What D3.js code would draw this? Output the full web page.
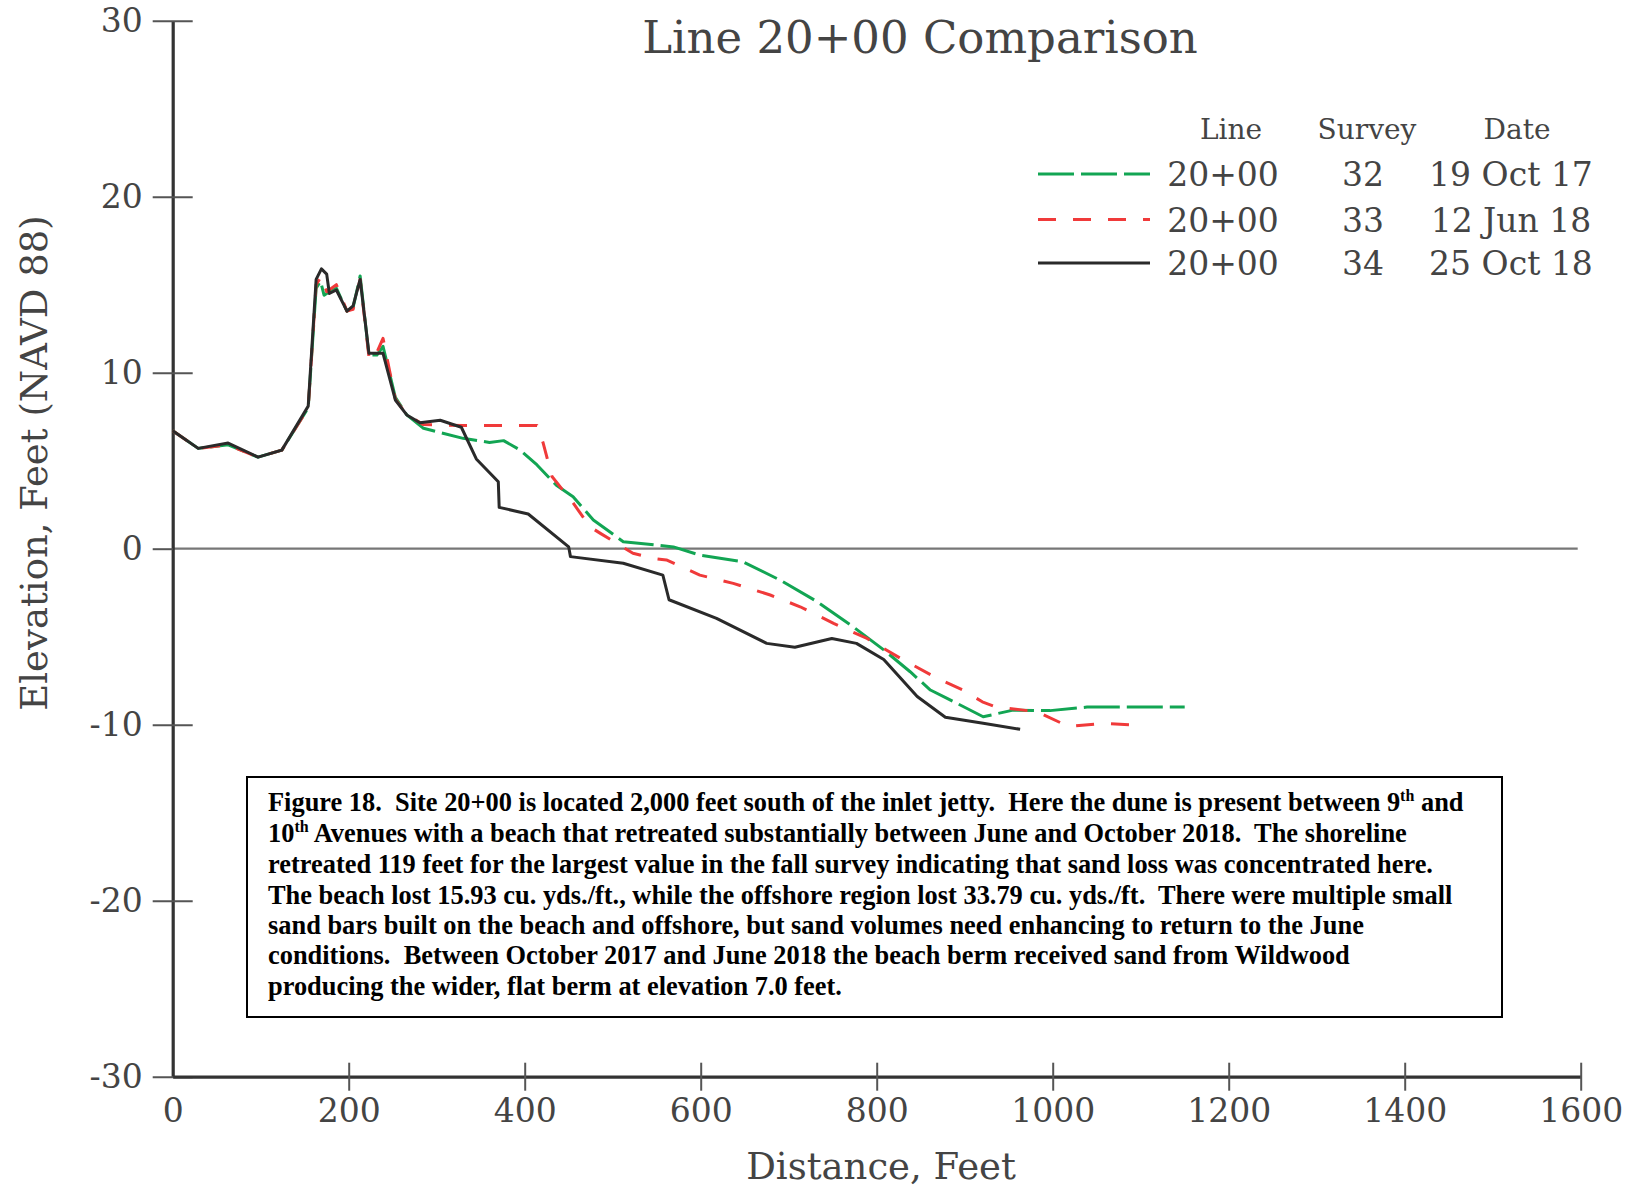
<!DOCTYPE html>
<html><head><meta charset="utf-8">
<script src="https://cdn.jsdelivr.net/npm/d3@7"></script>
<style>
html,body{margin:0;padding:0;background:#fff;}
svg{display:block;}
</style></head>
<body>
<svg id="chart" width="1631" height="1190"></svg>
<script>
const xTicks = [0,200,400,600,800,1000,1200,1400,1600];
const yTicks = [-30,-20,-10,0,10,20,30];

const legendHeaders = ["Line","Survey","Date"];
const seriesNames = ["20+00","20+00","20+00"];
const seriesSurvey = ["32","33","34"];
const seriesDate = ["19 Oct 17","12 Jun 18","25 Oct 18"];

const survey32 = [[0,6.7],[29,5.7],[63,5.9],[97,5.2],[124,5.6],[154,8.0],[163,14.8],[168,15.2],[172,14.4],[178,14.6],[186,14.8],[198,13.5],[205,13.7],[213,15.5],[223,11.0],[232,11.0],[239,11.5],[253,8.6],[266,7.6],[285,6.84],[330,6.27],[360,6.04],[376,6.14],[395,5.6],[414,4.76],[436,3.6],[455,2.95],[478,1.63],[512,0.4],[550,0.2],[569,0.1],[599,-0.36],[648,-0.74],[690,-1.78],[732,-3.0],[773,-4.43],[808,-5.75],[838,-6.99],[861,-8.03],[880,-8.5],[921,-9.55],[955,-9.17],[997,-9.2],[1039,-9.0],[1150,-9.0]];
const survey33 = [[0,6.7],[29,5.7],[63,5.9],[97,5.2],[124,5.6],[154,8.0],[163,15.0],[169,15.5],[175,14.6],[186,15.0],[198,13.5],[205,13.6],[213,15.3],[223,10.9],[228,10.7],[239,11.95],[253,8.5],[266,7.6],[285,7.05],[330,7.0],[414,7.0],[421,6.0],[431,4.1],[455,2.6],[474,1.25],[486,0.87],[508,0.2],[523,-0.26],[546,-0.55],[561,-0.64],[599,-1.5],[637,-1.97],[679,-2.63],[713,-3.3],[751,-4.24],[789,-5.1],[827,-6.23],[870,-7.4],[898,-8.03],[920,-8.7],[936,-9.0],[982,-9.26],[1018,-10.1],[1058,-9.92],[1101,-10.05]];
const survey34 = [[0,6.7],[29,5.7],[63,6.0],[97,5.2],[124,5.6],[154,8.1],[163,15.3],[169,15.9],[175,15.6],[178,14.5],[186,14.7],[198,13.5],[205,13.8],[213,15.3],[223,11.1],[239,11.1],[253,8.45],[266,7.6],[281,7.16],[304,7.3],[328,6.9],[345,5.1],[370,3.8],[371,2.35],[404,1.97],[450,0.1],[452,-0.45],[512,-0.83],[557,-1.5],[564,-2.9],[618,-3.96],[675,-5.38],[707,-5.6],[749,-5.1],[777,-5.38],[808,-6.3],[846,-8.4],[878,-9.58],[921,-9.92],[963,-10.26]];

const captionLines = [
  [["Figure 18.  Site 20+00 is located 2,000 feet south of the inlet jetty.  Here the dune is present between 9",""],["th","sup"],[" and","post"]],
  [["10",""],["th","sup"],[" Avenues with a beach that retreated substantially between June and October 2018.  The shoreline","post"]],
  [["retreated 119 feet for the largest value in the fall survey indicating that sand loss was concentrated here.",""]],
  [["The beach lost 15.93 cu. yds./ft., while the offshore region lost 33.79 cu. yds./ft.  There were multiple small",""]],
  [["sand bars built on the beach and offshore, but sand volumes need enhancing to return to the June",""]],
  [["conditions.  Between October 2017 and June 2018 the beach berm received sand from Wildwood",""]],
  [["producing the wider, flat berm at elevation 7.0 feet.",""]]
];

const seriesData = [survey32, survey33, survey34];
const seriesStyle = [
  {color:"#12a553", dash:"36,7"},
  {color:"#f03a3a", dash:"18,17"},
  {color:"#2a2a2a", dash:null}
];

const svg = d3.select("#chart");
const M = {left:172.7, right:1580.7, top:20.7, bottom:1076.7};
const x = d3.scaleLinear().domain([0,1600]).range([M.left,M.right]);
const y = d3.scaleLinear().domain([-30,30]).range([M.bottom,M.top]);
const serif = "'DejaVu Serif', serif";

// zero line
svg.append("line").attr("x1",x(0)).attr("x2",x(1600)-3).attr("y1",y(0)).attr("y2",y(0))
  .attr("stroke","#777").attr("stroke-width",2.2);

// y axis
const ya = svg.append("g").attr("transform",`translate(${M.left},0)`)
  .call(d3.axisLeft(y).tickValues(yTicks).tickFormat(d=>d).tickSize(0).tickPadding(30));
ya.select(".domain").attr("stroke","#333").attr("stroke-width",3.2);
ya.selectAll(".tick line").attr("x1",-20).attr("x2",20).attr("stroke","#555").attr("stroke-width",2);
ya.selectAll(".tick text").attr("font-family",serif).attr("font-size",33).attr("fill","#444");
ya.selectAll(".tick").filter(d=>d===0).select("line").attr("x2",0);

// x axis
const xa = svg.append("g").attr("transform",`translate(0,${M.bottom})`)
  .call(d3.axisBottom(x).tickValues(xTicks).tickFormat(d=>d).tickSize(0).tickPadding(22));
xa.select(".domain").attr("stroke","#333").attr("stroke-width",3.2);
xa.selectAll(".tick line").attr("y1",-14).attr("y2",14).attr("stroke","#555").attr("stroke-width",2);
xa.selectAll(".tick").filter(d=>d===0).select("line").attr("y1",0).attr("y2",0);
xa.selectAll(".tick text").attr("font-family",serif).attr("font-size",33).attr("fill","#444");

// axis labels
svg.append("text").attr("transform",`translate(47,463) rotate(-90)`).attr("text-anchor","middle")
  .attr("font-family",serif).attr("font-size",37).attr("fill","#444").text("Elevation, Feet (NAVD 88)");
svg.append("text").attr("x",881).attr("y",1179).attr("text-anchor","middle")
  .attr("font-family",serif).attr("font-size",37).attr("fill","#444").text("Distance, Feet");

// title
svg.append("text").attr("x",920).attr("y",53).attr("text-anchor","middle")
  .attr("font-family",serif).attr("font-size",45).attr("fill","#444").text("Line 20+00 Comparison");

// lines
const line = d3.line().x(d=>x(d[0])).y(d=>y(d[1]));
seriesData.forEach((s,i)=>{
  svg.append("path").datum(s).attr("d",line).attr("fill","none")
    .attr("stroke",seriesStyle[i].color).attr("stroke-width",3)
    .attr("stroke-linejoin","round")
    .attr("stroke-dasharray",seriesStyle[i].dash);
});

// legend
const hx = [1231,1367,1517];
legendHeaders.forEach((h,i)=>{
  svg.append("text").attr("x",hx[i]).attr("y",139).attr("text-anchor","middle")
    .attr("font-family",serif).attr("font-size",28).attr("fill","#444").text(h);
});
const rowY = [174,219.5,263];
const cx = [1223,1363,1511];
seriesData.forEach((s,i)=>{
  svg.append("line").attr("x1",1038).attr("x2",1150).attr("y1",rowY[i]).attr("y2",rowY[i])
    .attr("stroke",seriesStyle[i].color).attr("stroke-width",3.2)
    .attr("stroke-dasharray",seriesStyle[i].dash);
  [seriesNames[i],seriesSurvey[i],seriesDate[i]].forEach((t,j)=>{
    svg.append("text").attr("x",cx[j]).attr("y",rowY[i]+12).attr("text-anchor","middle")
      .attr("font-family",serif).attr("font-size",33).attr("fill","#444").text(t);
  });
});

// caption box
svg.append("rect").attr("x",247).attr("y",777).attr("width",1255).attr("height",240)
  .attr("fill","#fff").attr("stroke","#000").attr("stroke-width",2);
const capY = [811,842,873,904,934,964,995];
captionLines.forEach((ln,i)=>{
  const t = svg.append("text").attr("x",268).attr("y",capY[i])
    .attr("font-family","'Liberation Serif', 'Times New Roman', serif").attr("font-weight","bold")
    .attr("font-size",26.4).attr("fill","#000").style("white-space","pre");
  ln.forEach(([str,kind])=>{
    const sp = t.append("tspan").text(str);
    if(kind==="sup") sp.attr("font-size",16).attr("dy",-10);
    if(kind==="post") sp.attr("dy",10);
  });
});
</script>
</body></html>
